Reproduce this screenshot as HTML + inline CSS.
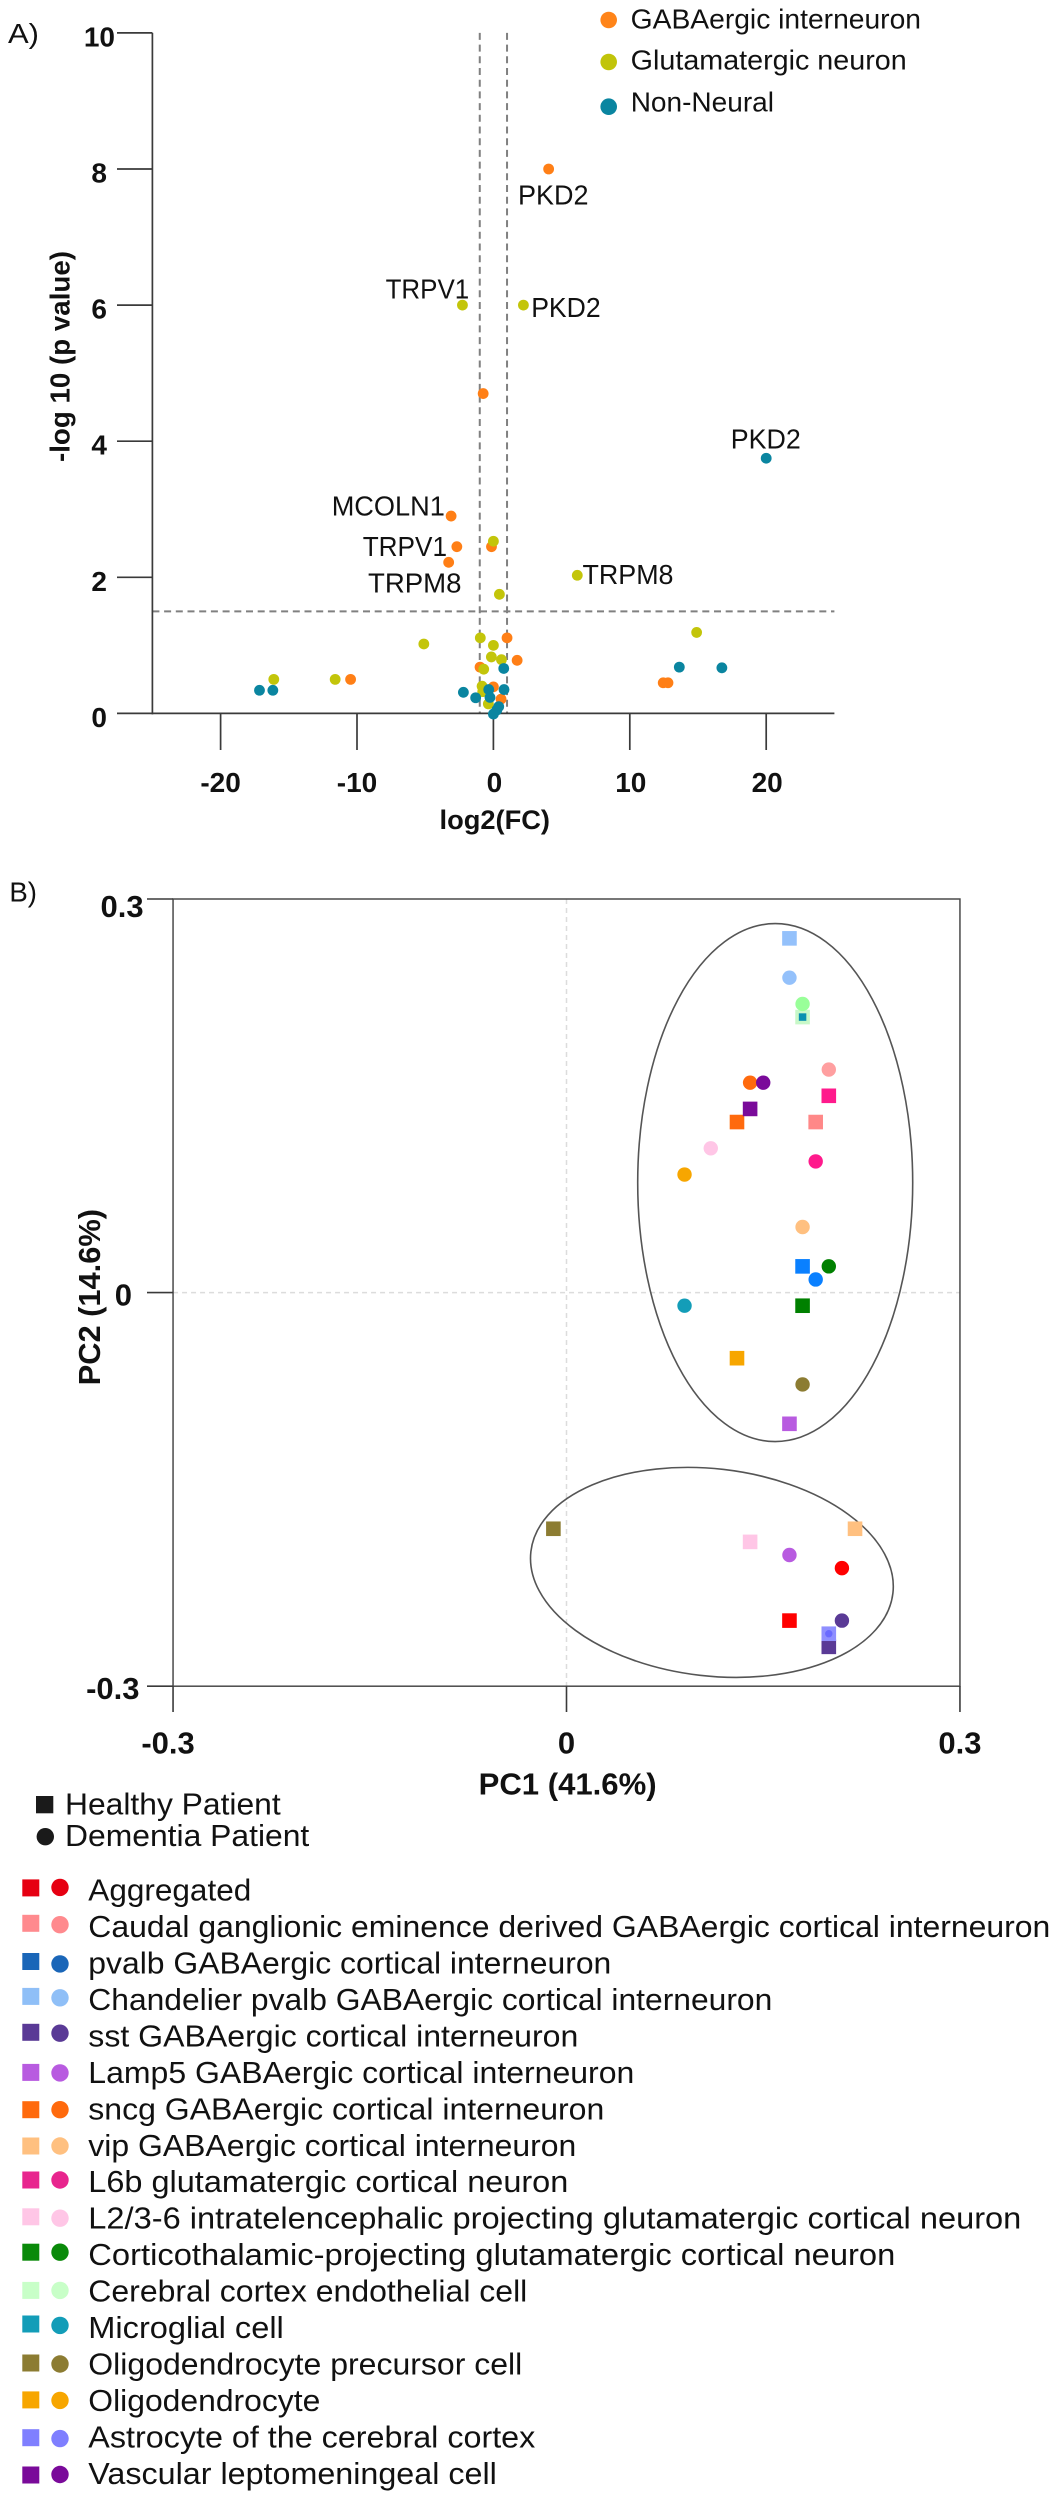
<!DOCTYPE html>
<html lang="en">
<head>
<meta charset="utf-8">
<title>Volcano plot and PCA of cell types</title>
<style>
html,body{margin:0;padding:0;background:#fff;}
svg{display:block;}
text{font-family:"Liberation Sans",sans-serif;fill:#111;}
.lbl{font-size:28px;}
.leg{font-size:31px;}
.bold{font-weight:700;}
</style>
</head>
<body>
<svg id="figure" xmlns="http://www.w3.org/2000/svg" width="1057" height="2500" viewBox="0 0 1057 2500">
  <rect x="0" y="0" width="1057" height="2500" fill="#fff"/>

  <!-- Panel A static text -->
  <text class="lbl" x="8" y="43" textLength="31" lengthAdjust="spacingAndGlyphs">A)</text>
  <g id="volcano-axes"></g>
  <g id="volcano-points"></g>

  <g>
    <text class="lbl" x="518" y="204.5" textLength="70.5" lengthAdjust="spacingAndGlyphs">PKD2</text>
    <text class="lbl" x="385.6" y="298.5" textLength="83.6" lengthAdjust="spacingAndGlyphs">TRPV1</text>
    <text class="lbl" x="531.2" y="317" textLength="69.5" lengthAdjust="spacingAndGlyphs">PKD2</text>
    <text class="lbl" x="730.8" y="448.7" textLength="70" lengthAdjust="spacingAndGlyphs">PKD2</text>
    <text class="lbl" x="331.7" y="515.6" textLength="113.2" lengthAdjust="spacingAndGlyphs">MCOLN1</text>
    <text class="lbl" x="362.7" y="556.2" textLength="84.3" lengthAdjust="spacingAndGlyphs">TRPV1</text>
    <text class="lbl" x="368" y="592.5" textLength="93.5" lengthAdjust="spacingAndGlyphs">TRPM8</text>
    <text class="lbl" x="582.5" y="584" textLength="91" lengthAdjust="spacingAndGlyphs">TRPM8</text>
  </g>

  <g>
    <circle cx="608.7" cy="20" r="8.3" fill="#ff8419"/>
    <text class="lbl" x="630.7" y="28.5" textLength="290.3" lengthAdjust="spacingAndGlyphs">GABAergic interneuron</text>
    <circle cx="608.7" cy="62" r="8.3" fill="#c1c40a"/>
    <text class="lbl" x="630.7" y="69.5" textLength="276" lengthAdjust="spacingAndGlyphs">Glutamatergic neuron</text>
    <circle cx="608.7" cy="106.7" r="8.3" fill="#0a85a0"/>
    <text class="lbl" x="630.7" y="111.7" textLength="143.3" lengthAdjust="spacingAndGlyphs">Non-Neural</text>
  </g>

  <text class="bold" font-size="27" x="439.5" y="829" textLength="110.5" lengthAdjust="spacingAndGlyphs">log2(FC)</text>
  <text class="bold" font-size="28" transform="translate(69.5,462) rotate(-90)" x="0" y="0" textLength="211" lengthAdjust="spacingAndGlyphs">-log 10 (p value)</text>

  <!-- Panel B static text -->
  <text class="lbl" x="9.4" y="901.6" textLength="27.6" lengthAdjust="spacingAndGlyphs">B)</text>
  <g id="pca-axes"></g>
  <ellipse cx="775.2" cy="1182.6" rx="137.5" ry="259" fill="none" stroke="#555" stroke-width="1.6"/>
  <ellipse cx="711.9" cy="1572.4" rx="182.2" ry="103.6" transform="rotate(6.56 711.9 1572.4)" fill="none" stroke="#555" stroke-width="1.6"/>
  <g id="pca-points"></g>
  <text class="bold" font-size="31" x="478.6" y="1794.5" textLength="178" lengthAdjust="spacingAndGlyphs">PC1 (41.6%)</text>
  <text class="bold" font-size="31" transform="translate(100,1385.3) rotate(-90)" x="0" y="0" textLength="176.3" lengthAdjust="spacingAndGlyphs">PC2 (14.6%)</text>

  <!-- Patient legend -->
  <g>
    <rect x="36" y="1796" width="17.3" height="17.3" fill="#1a1a1a"/>
    <text class="leg" x="65" y="1814.3" textLength="215.7" lengthAdjust="spacingAndGlyphs">Healthy Patient</text>
    <circle cx="45.3" cy="1836.7" r="8.7" fill="#1a1a1a"/>
    <text class="leg" x="65" y="1846" textLength="244.3" lengthAdjust="spacingAndGlyphs">Dementia Patient</text>
  </g>

  <!-- Cell type legend -->
  <g>
    <g><rect x="22.3" y="1879.4" width="17" height="17" fill="#e60012"/><circle cx="60" cy="1887.4" r="8.7" fill="#e60012"/><text class="leg" x="88.3" y="1900.6" textLength="163" lengthAdjust="spacingAndGlyphs">Aggregated</text></g>
    <g><rect x="22.3" y="1914.8" width="17" height="17" fill="#ff8a8e"/><circle cx="60" cy="1924.7" r="8.7" fill="#ff8a8e"/><text class="leg" x="88.3" y="1937" textLength="962" lengthAdjust="spacingAndGlyphs">Caudal ganglionic eminence derived GABAergic cortical interneuron</text></g>
    <g><rect x="22.3" y="1953" width="17" height="17" fill="#1a66b8"/><circle cx="60" cy="1963.9" r="8.7" fill="#1a66b8"/><text class="leg" x="88.3" y="1973.5" textLength="523" lengthAdjust="spacingAndGlyphs">pvalb GABAergic cortical interneuron</text></g>
    <g><rect x="22.3" y="1987.9" width="17" height="17" fill="#8fbff7"/><circle cx="60" cy="1997.8" r="8.7" fill="#8fbff7"/><text class="leg" x="88.3" y="2010" textLength="684" lengthAdjust="spacingAndGlyphs">Chandelier pvalb GABAergic cortical interneuron</text></g>
    <g><rect x="22.3" y="2023.8" width="17" height="17" fill="#5a3a96"/><circle cx="60" cy="2033.2" r="8.7" fill="#5a3a96"/><text class="leg" x="88.3" y="2046.4" textLength="490" lengthAdjust="spacingAndGlyphs">sst GABAergic cortical interneuron</text></g>
    <g><rect x="22.3" y="2063.9" width="17" height="17" fill="#b85be0"/><circle cx="60" cy="2072.9" r="8.7" fill="#b85be0"/><text class="leg" x="88.3" y="2082.9" textLength="546" lengthAdjust="spacingAndGlyphs">Lamp5 GABAergic cortical interneuron</text></g>
    <g><rect x="22.3" y="2101.2" width="17" height="17" fill="#ff6a0d"/><circle cx="60" cy="2109.7" r="8.7" fill="#ff6a0d"/><text class="leg" x="88.3" y="2119.3" textLength="516" lengthAdjust="spacingAndGlyphs">sncg GABAergic cortical interneuron</text></g>
    <g><rect x="22.3" y="2137.5" width="17" height="17" fill="#ffc080"/><circle cx="60" cy="2146" r="8.7" fill="#ffc080"/><text class="leg" x="88.3" y="2155.8" textLength="488" lengthAdjust="spacingAndGlyphs">vip GABAergic cortical interneuron</text></g>
    <g><rect x="22.3" y="2171.5" width="17" height="17" fill="#e8258e"/><circle cx="60" cy="2180" r="8.7" fill="#e8258e"/><text class="leg" x="88.3" y="2192.2" textLength="480" lengthAdjust="spacingAndGlyphs">L6b glutamatergic cortical neuron</text></g>
    <g><rect x="22.3" y="2208.3" width="17" height="17" fill="#ffc6e6"/><circle cx="60" cy="2218.2" r="8.7" fill="#ffc6e6"/><text class="leg" x="88.3" y="2228.7" textLength="933" lengthAdjust="spacingAndGlyphs">L2/3-6 intratelencephalic projecting glutamatergic cortical neuron</text></g>
    <g><rect x="22.3" y="2243.7" width="17" height="17" fill="#0a8a0a"/><circle cx="60" cy="2252.2" r="8.7" fill="#0a8a0a"/><text class="leg" x="88.3" y="2265.1" textLength="807" lengthAdjust="spacingAndGlyphs">Corticothalamic-projecting glutamatergic cortical neuron</text></g>
    <g><rect x="22.3" y="2281.9" width="17" height="17" fill="#c8ffc8"/><circle cx="60" cy="2290.4" r="8.7" fill="#c8ffc8"/><text class="leg" x="88.3" y="2301.6" textLength="439" lengthAdjust="spacingAndGlyphs">Cerebral cortex endothelial cell</text></g>
    <g><rect x="22.3" y="2315.5" width="17" height="17" fill="#139db8"/><circle cx="60" cy="2325.4" r="8.7" fill="#139db8"/><text class="leg" x="88.3" y="2338" textLength="195.5" lengthAdjust="spacingAndGlyphs">Microglial cell</text></g>
    <g><rect x="22.3" y="2354.5" width="17" height="17" fill="#8c7c32"/><circle cx="60" cy="2364" r="8.7" fill="#8c7c32"/><text class="leg" x="88.3" y="2374.5" textLength="434" lengthAdjust="spacingAndGlyphs">Oligodendrocyte precursor cell</text></g>
    <g><rect x="22.3" y="2391.4" width="17" height="17" fill="#f7a600"/><circle cx="60" cy="2400.4" r="8.7" fill="#f7a600"/><text class="leg" x="88.3" y="2410.9" textLength="232" lengthAdjust="spacingAndGlyphs">Oligodendrocyte</text></g>
    <g><rect x="22.3" y="2429.2" width="17" height="17" fill="#7f7fff"/><circle cx="60" cy="2438.6" r="8.7" fill="#7f7fff"/><text class="leg" x="88.3" y="2447.4" textLength="447" lengthAdjust="spacingAndGlyphs">Astrocyte of the cerebral cortex</text></g>
    <g><rect x="22.3" y="2466.5" width="17" height="17" fill="#7a0a9a"/><circle cx="60" cy="2474.5" r="8.7" fill="#7a0a9a"/><text class="leg" x="88.3" y="2483.8" textLength="408.5" lengthAdjust="spacingAndGlyphs">Vascular leptomeningeal cell</text></g>
  </g>
</svg>

<script>
// ---- Volcano plot data ----
const gabaFoldChange = [4.05, -0.75, -3.1, -2.68, -3.28, -0.14, -10.47, 1.0, 1.74, -0.98, 0.0, 0.56, 12.45, 12.8];
const gabaLogP = [8.0, 4.7, 2.9, 2.45, 2.22, 2.45, 0.5, 1.11, 0.78, 0.68, 0.39, 0.21, 0.45, 0.45];
const glutFoldChange = [2.2, -2.27, 6.15, 0.0, 0.44, -5.1, -11.6, -16.1, -0.96, 0.0, -0.15, 0.59, -0.71, -0.83, -0.78, -0.37, 14.9];
const glutLogP = [6.0, 6.0, 2.03, 2.53, 1.75, 1.02, 0.5, 0.5, 1.11, 1.0, 0.83, 0.79, 0.65, 0.4, 0.32, 0.14, 1.19];
const nonNeuralFoldChange = [20.0, 13.63, 16.75, -17.15, -16.17, -2.2, -1.3, -0.34, -0.25, 0.76, 0.78, 0.39, 0.25, 0.0];
const nonNeuralLogP = [3.75, 0.68, 0.67, 0.34, 0.34, 0.31, 0.23, 0.35, 0.235, 0.66, 0.35, 0.1, 0.05, -0.01];
const volcanoXTicks = [-20, -10, 0, 10, 20];
const volcanoYTicks = [0, 2, 4, 6, 8, 10];
const foldChangeThresholds = [-1, 1];
const significanceThreshold = 1.5;

// ---- PCA data (index order follows the cell type legend) ----
const cellTypes = ['aggregated', 'caudal-ganglionic', 'pvalb', 'chandelier-pvalb', 'sst', 'lamp5', 'sncg', 'vip', 'l6b', 'l2-3-6', 'corticothalamic', 'endothelial', 'microglial', 'opc', 'oligodendrocyte', 'astrocyte', 'vascular'];
const healthyPC1 = [0.17, 0.19, 0.18, 0.17, 0.20, 0.17, 0.13, 0.22, 0.20, 0.14, 0.18, 0.18, 0.18, -0.01, 0.13, 0.20, 0.14];
const healthyPC2 = [-0.25, 0.13, 0.02, 0.27, -0.27, -0.10, 0.13, -0.18, 0.15, -0.19, -0.01, 0.21, 0.21, -0.18, -0.05, -0.26, 0.14];
const dementiaPC1 = [0.21, 0.20, 0.19, 0.17, 0.21, 0.17, 0.14, 0.18, 0.19, 0.11, 0.20, 0.18, 0.09, 0.18, 0.09, 0.20, 0.15];
const dementiaPC2 = [-0.21, 0.17, 0.01, 0.24, -0.25, -0.20, 0.16, 0.05, 0.10, 0.11, 0.02, 0.22, -0.01, -0.07, 0.09, -0.26, 0.16];
const pcaTicks = [-0.3, 0, 0.3];

// ---- Styling, kept apart from the data ----
const SVG_NS = 'http://www.w3.org/2000/svg';
const healthyFill = ['#ff0000', '#ff8888', '#0a80ff', '#94c1fb', '#5a3a96', '#b85be0', '#ff6a0d', '#ffc080', '#ff1a8c', '#ffc6e6', '#008000', '#c8f8c8', '#0a90b0', '#8c7c32', '#f7a600', '#8f8fff', '#7a0a9a'];
const dementiaFill = ['#ff0000', '#ff9fa0', '#0a80ff', '#94c1fb', '#5a3a96', '#b85be0', '#ff6a0d', '#ffc080', '#ff1a8c', '#ffc6e6', '#008000', '#99ff99', '#139db8', '#8c7c32', '#f7a600', '#6a6aff', '#7a0a9a'];

function makeEl(tag, attrs, parent) {
  const el = document.createElementNS(SVG_NS, tag);
  Object.keys(attrs).forEach(function (k) { el.setAttribute(k, attrs[k]); });
  parent.appendChild(el);
  return el;
}

// ---- Volcano axes ----
const volcanoX = function (v) { return 493.4 + v * 13.64; };
const volcanoY = function (v) { return 713.4 - v * 68.05; };
const vAxes = document.getElementById('volcano-axes');
const axisStroke = '#3a3a3a';

const vThreshH = makeEl('line', {x1: volcanoX(-25), x2: volcanoX(25), y1: volcanoY(significanceThreshold), y2: volcanoY(significanceThreshold), stroke: '#808080', 'stroke-width': 2, 'stroke-dasharray': '7 4.7'}, vAxes);



foldChangeThresholds.forEach(function (t) {
  const line = makeEl('line', {x1: volcanoX(t), x2: volcanoX(t), y1: volcanoY(10), y2: volcanoY(0), stroke: '#808080', 'stroke-width': 2, 'stroke-dasharray': '7 4.7'}, vAxes);
  
  
});

const vYAxis = makeEl('line', {x1: volcanoX(-25), x2: volcanoX(-25), y1: volcanoY(10), y2: volcanoY(0) + 1, stroke: axisStroke, 'stroke-width': 1.7}, vAxes);



const vXAxis = makeEl('line', {x1: volcanoX(-25), x2: volcanoX(25), y1: volcanoY(0), y2: volcanoY(0), stroke: axisStroke, 'stroke-width': 1.7}, vAxes);



volcanoXTicks.forEach(function (t) {
  const tick = makeEl('line', {x1: volcanoX(t), x2: volcanoX(t), y1: volcanoY(0), y2: 750, stroke: axisStroke, 'stroke-width': 1.7}, vAxes);
  
  
  const label = makeEl('text', {x: volcanoX(t) - (t < 0 ? 0 : -1), y: 792, 'text-anchor': 'middle', 'font-size': 28, 'font-weight': 700}, vAxes);
  label.textContent = String(t);
  
  
});

volcanoYTicks.forEach(function (t) {
  const tick = makeEl('line', {x1: 117, x2: volcanoX(-25), y1: volcanoY(t), y2: volcanoY(t), stroke: axisStroke, 'stroke-width': 1.7}, vAxes);
  
  
  const label = makeEl('text', {x: t === 10 ? 115 : 107, y: volcanoY(t) + 13.5, 'text-anchor': 'end', 'font-size': 28, 'font-weight': 700}, vAxes);
  label.textContent = String(t);
  
  
});

// ---- Volcano points ----
const vPoints = document.getElementById('volcano-points');
gabaFoldChange.forEach(function (fc, i) {
  const dot = makeEl('circle', {cx: volcanoX(fc), cy: volcanoY(gabaLogP[i]), r: 5.4, fill: '#ff7f16'}, vPoints);
  
  
});
glutFoldChange.forEach(function (fc, i) {
  const dot = makeEl('circle', {cx: volcanoX(fc), cy: volcanoY(glutLogP[i]), r: 5.4, fill: '#c3c50a'}, vPoints);
  
  
});
nonNeuralFoldChange.forEach(function (fc, i) {
  const dot = makeEl('circle', {cx: volcanoX(fc), cy: volcanoY(nonNeuralLogP[i]), r: 5.4, fill: '#0a85a0'}, vPoints);
  
  
});

// ---- PCA axes ----
const pcaX = function (v) { return 566.5 + v * 1311.5; };
const pcaY = function (v) { return 1292.6 - v * 1312; };
const pAxes = document.getElementById('pca-axes');

const gridH = makeEl('line', {x1: pcaX(-0.3), x2: pcaX(0.3), y1: pcaY(0), y2: pcaY(0), stroke: '#dcdcdc', 'stroke-width': 1.5, 'stroke-dasharray': '5 4'}, pAxes);



const gridV = makeEl('line', {x1: pcaX(0), x2: pcaX(0), y1: pcaY(0.3), y2: pcaY(-0.3), stroke: '#dcdcdc', 'stroke-width': 1.5, 'stroke-dasharray': '5 4'}, pAxes);



const frame = makeEl('rect', {x: pcaX(-0.3), y: pcaY(0.3), width: pcaX(0.3) - pcaX(-0.3), height: pcaY(-0.3) - pcaY(0.3), fill: 'none', stroke: '#4a4a4a', 'stroke-width': 1.5}, pAxes);



pcaTicks.forEach(function (t) {
  const xTick = makeEl('line', {x1: pcaX(t), x2: pcaX(t), y1: pcaY(-0.3), y2: 1712, stroke: axisStroke, 'stroke-width': 1.6}, pAxes);
  
  
  const xLabel = makeEl('text', {x: pcaX(t) + (t < 0 ? -5 : 0), y: 1753.5, 'text-anchor': 'middle', 'font-size': 31, 'font-weight': 700}, pAxes);
  xLabel.textContent = String(t);
  
  

  const yTick = makeEl('line', {x1: 147, x2: pcaX(-0.3), y1: pcaY(t), y2: pcaY(t), stroke: axisStroke, 'stroke-width': 1.6}, pAxes);
  
  
  const yLabel = makeEl('text', {x: t === 0 ? 132 : (t > 0 ? 143.6 : 139.5), y: pcaY(t) + (t > 0 ? 18 : 13), 'text-anchor': 'end', 'font-size': 31, 'font-weight': 700}, pAxes);
  yLabel.textContent = String(t);
  
  
});

// ---- PCA points ----
const pPoints = document.getElementById('pca-points');
healthyPC1.forEach(function (pc1, i) {
  const side = cellTypes[i] === 'microglial' ? 7.5 : 14.6;
  const square = makeEl('rect', {x: pcaX(pc1) - side / 2, y: pcaY(healthyPC2[i]) - side / 2, width: side, height: side, fill: healthyFill[i]}, pPoints);
  
  
});
dementiaPC1.forEach(function (pc1, i) {
  const radius = cellTypes[i] === 'astrocyte' ? 3.7 : 7.2;
  const circle = makeEl('circle', {cx: pcaX(pc1), cy: pcaY(dementiaPC2[i]), r: radius, fill: dementiaFill[i]}, pPoints);
  
  
});
</script>
</body>
</html>
